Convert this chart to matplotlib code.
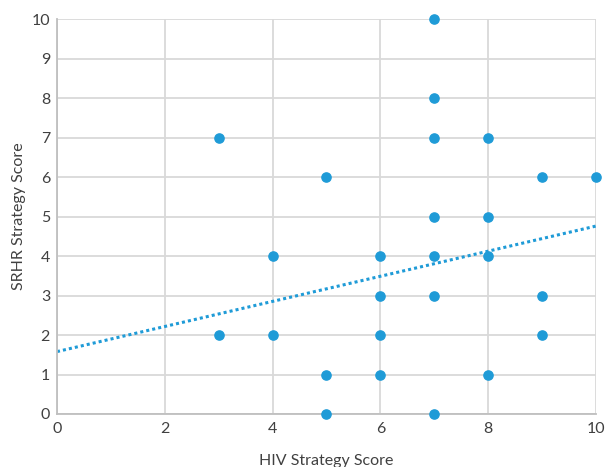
import numpy as np
import matplotlib
matplotlib.use('Agg')
from matplotlib import pyplot as plt

plt.rcParams['font.family'] = ['Lato', 'DejaVu Sans']

# scores
hiv_score = [3, 3, 4, 4, 5, 5, 5, 6, 6, 6, 6, 7, 7, 7, 7, 7, 7, 7, 8, 8, 8, 8, 9, 9, 9, 10]
srhr_score = [7, 2, 4, 2, 6, 1, 0, 4, 3, 2, 1, 10, 8, 7, 5, 4, 3, 0, 7, 5, 4, 1, 6, 3, 2, 6]

# linear trendline (as shown)
trend_x = [0, 10]
trend_y = [1.58, 4.76]

blue = '#1f9bd7'
grid = '#d9d9d9'

fig = plt.figure(figsize=(6.06, 4.67), dpi=100)
ax = fig.add_axes([0.094, 0.1135, 0.8895, 0.8455])

ax.scatter(hiv_score, srhr_score, s=44, color=blue, zorder=3, clip_on=False)
ax.plot(trend_x, trend_y, color=blue, linestyle=(0, (1, 1)), linewidth=2.2, zorder=2)

ax.set_xlim(0, 10)
ax.set_ylim(0, 10)
ax.set_xticks(np.arange(0, 11, 2))
ax.set_yticks(np.arange(0, 11, 1))
ax.grid(True, color=grid, linewidth=1.3)
ax.set_axisbelow(True)
for s in ['top', 'right']:
    ax.spines[s].set_visible(False)
for s in ['left', 'bottom']:
    ax.spines[s].set_color('#bfbfbf')
    ax.spines[s].set_linewidth(1.3)
ax.tick_params(length=0, labelsize=11.5, colors='#404040', pad=5)
ax.tick_params(axis='x', pad=6)
ax.set_xlabel('HIV Strategy Score', fontsize=11.5, color='#404040', labelpad=13)
ax.set_ylabel('SRHR Strategy Score', fontsize=11.5, color='#404040', labelpad=4)

plt.savefig('out.png', dpi=100)
